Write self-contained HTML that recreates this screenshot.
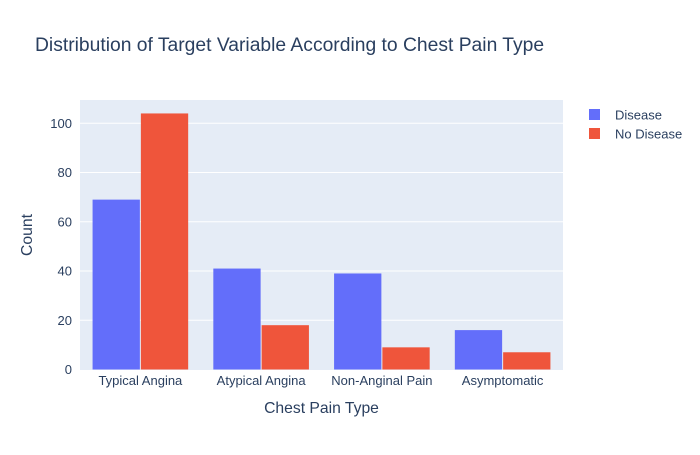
<!DOCTYPE html>
<html><head><meta charset="utf-8"><style>
body{margin:0;background:#fff;font-family:"Liberation Sans",sans-serif;}
svg text{font-family:"Liberation Sans",sans-serif;fill:#2a3f5f;}
</style></head><body>
<svg id="chart" width="700" height="450">
<text x="35" y="51" font-size="19.3">Distribution of Target Variable According to Chest Pain Type</text>
<rect x="80" y="100" width="483" height="270" fill="#e5ecf6"/>
<g id="grid"></g><g id="bars"></g><g id="ticks"></g>
<text x="321.5" y="413" font-size="15.7" text-anchor="middle">Chest Pain Type</text>
<text transform="translate(32,235) rotate(-90)" font-size="15.7" text-anchor="middle">Count</text>
<g>
<g><rect x="589" y="109" width="11" height="11" fill="#636efa"/><text x="615" y="119.5" font-size="13">Disease</text></g>
<g><rect x="589" y="128" width="11" height="11" fill="#ef553b"/><text x="615" y="138.5" font-size="13">No Disease</text></g>
</g>
</svg>
<script>
const categories=["Typical Angina","Atypical Angina","Non-Anginal Pain","Asymptomatic"];
const disease=[69,41,39,16];
const noDisease=[104,18,9,7];
const yTicks=[0,20,40,60,80,100];
const NS="http://www.w3.org/2000/svg";
const L=80,R=563,Y0=369.5,PX=2.462;
const y=v=>Y0-v*PX;
const bw=(R-L)/categories.length;
const x=i=>L+bw*i;
function mk(t,a,p){const e=document.createElementNS(NS,t);for(const k in a)e.setAttribute(k,a[k]);p.appendChild(e);return e;}
const grid=document.getElementById('grid'),ticks=document.getElementById('ticks'),bars=document.getElementById('bars');
yTicks.forEach(v=>{
 if(v>0){const l=mk('line',{x1:L,x2:R,y1:y(v),y2:y(v),stroke:'#fff','stroke-width':1},grid);
 
 }
 const t=mk('text',{x:L-8,y:y(v)+4.5,'font-size':13,'text-anchor':'end'},ticks);t.textContent=v;
 
 
});
categories.forEach((c,i)=>{
 const gw=bw*0.8,b=gw/2,x0=x(i)+bw*0.1;
 [[disease[i],'#636efa','disease'],[noDisease[i],'#ef553b','no-disease']].forEach(([v,col,n],j)=>{
  const r=mk('rect',{x:x0+j*b+0.5,y:y(v),width:b-1,height:v*PX,fill:col},bars);
  
  
 });
 const t=mk('text',{x:x(i)+bw/2,y:385,'font-size':13,'text-anchor':'middle'},ticks);t.textContent=c;
 
 
});
</script>
</body></html>
